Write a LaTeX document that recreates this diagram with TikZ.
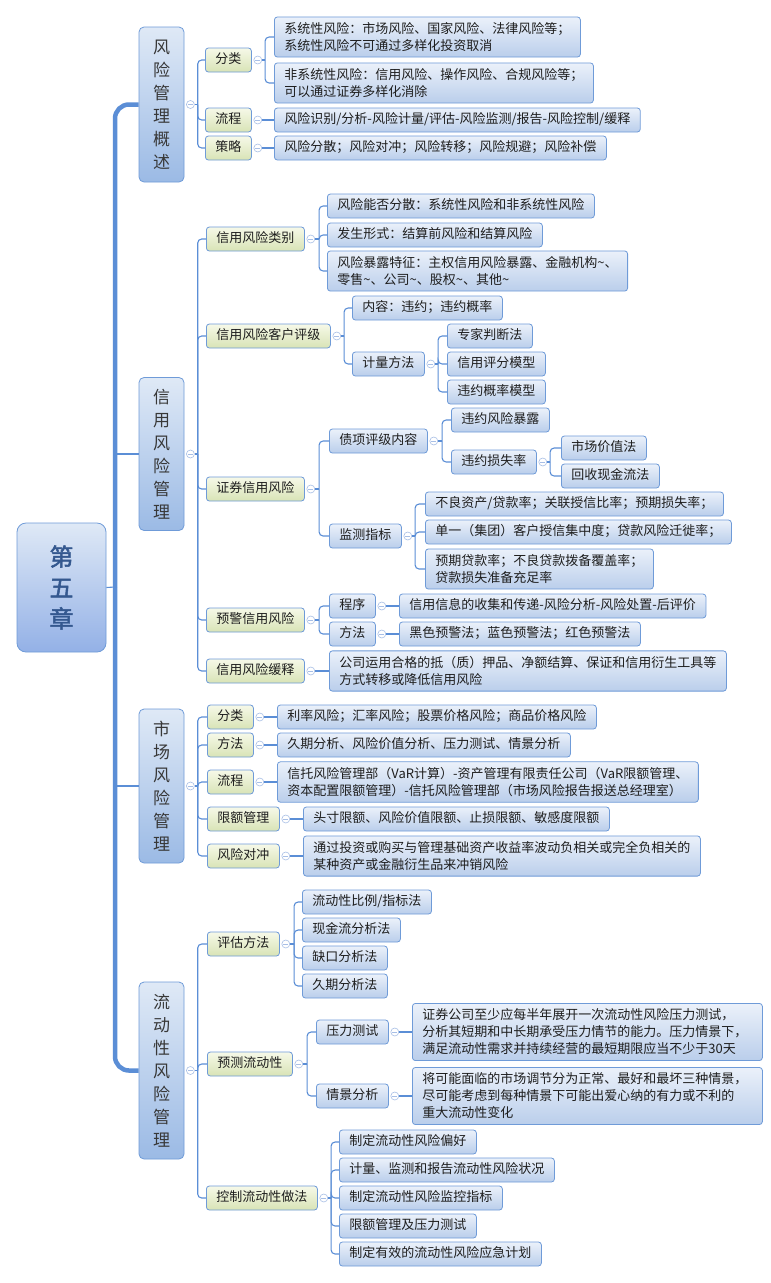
\documentclass[tikz,border=0pt]{standalone}
\usepackage{fontspec}
\setmainfont{Noto Sans CJK SC}[AutoFakeBold=2]
\usetikzlibrary{positioning, calc}
\definecolor{lnblue}{HTML}{5B8ED6}
\definecolor{bxline}{HTML}{6F9BD8}
\definecolor{lfTop}{HTML}{EBF1FA}
\definecolor{lfBot}{HTML}{BACEEB}
\definecolor{mdTop}{HTML}{F6F9E8}
\definecolor{mdBot}{HTML}{D8E3B6}
\definecolor{tpTop}{HTML}{DFE9F6}
\definecolor{tpBot}{HTML}{9BBAE5}
\definecolor{tgring}{HTML}{A8BFE6}
\definecolor{txdark}{HTML}{1E1E1E}
\definecolor{tpdark}{HTML}{383838}
\definecolor{rtblue}{HTML}{34588F}

\begin{document}
\begin{tikzpicture}[
  x=1pt, y=-1pt,
  base/.style={draw=bxline, line width=0.8pt, rounded corners=3pt, anchor=west,
    inner xsep=10pt, inner ysep=5.5pt, text height=10pt, text depth=3pt,
    align=left, font=\fontsize{13}{17}\selectfont, text=txdark},
  leaf/.style={base, top color=lfTop, bottom color=lfBot},
  mid/.style={base, top color=mdTop, bottom color=mdBot},
  multi/.style={text height={}, text depth={}},
  topic/.style={draw=bxline, line width=0.8pt, rounded corners=5pt,
    top color=tpTop, bottom color=tpBot, minimum width=45pt, inner xsep=0pt,
    inner ysep=0pt, align=center,
    font=\fontsize{17}{23}\selectfont, text=tpdark},
  rootbox/.style={draw=bxline, line width=0.8pt, rounded corners=9pt,
    top color=tpTop, bottom color=tpBot!95!blue, minimum width=89pt,
    minimum height=129pt, align=center,
    font=\fontsize{24}{31}\selectfont\bfseries, text=rtblue},
  tog/.style={circle, draw=tgring, line width=0.6pt, fill=white, minimum size=8pt,
    inner sep=0pt, path picture={\draw[tgring, line width=0.6pt]
      ([xshift=-2.4pt]path picture bounding box.center) --
      ([xshift=2.4pt]path picture bounding box.center);}},
  conn/.style={draw=lnblue, line width=1.1pt},
  trunk/.style={draw=lnblue, line width=4.5pt, rounded corners=14pt},
]

\useasboundingbox[fill=white] (0,0) rectangle (771,1283);

% Root
\node[rootbox] (ch5) at (61.5,587.5) {第\\五\\章};
\coordinate (trk) at (115,587);
\draw[conn] (ch5.east) -- (trk);

% =============================================
% Topics
% =============================================
\node[topic, minimum height=155pt] (ovw) at (161.5,104.5) {风\\险\\管\\理\\概\\述};
\node[topic, minimum height=153pt] (crd) at (161.5,454) {信\\用\\风\\险\\管\\理};
\node[topic, minimum height=154pt] (mkt) at (161.5,786) {市\\场\\风\\险\\管\\理};
\node[topic, minimum height=177pt] (liq) at (161.5,1070.5) {流\\动\\性\\风\\险\\管\\理};

% Trunk
\draw[trunk] (trk) |- (ovw.west);
\draw[trunk] (trk) |- (liq.west);
\draw[conn] (crd.west -| trk) -- (crd.west);
\draw[conn] (mkt.west -| trk) -- (mkt.west);

\foreach \t in {ovw, crd, mkt, liq}
  \node[tog] (\t-t) at ([xshift=6pt]\t.east) {};

% =============================================
% Risk management overview
% =============================================
\node[mid] (ovw-cls) at (205,60) {分类};
\node[mid] (ovw-prc) at (205,120) {流程};
\node[mid] (ovw-stg) at (205,148) {策略};

\node[leaf, multi] (ovw-cls-a) at (274,37)
  {系统性风险：市场风险、国家风险、法律风险等；\\系统性风险不可通过多样化投资取消};
\node[leaf, multi] (ovw-cls-b) at (274,83)
  {非系统性风险：信用风险、操作风险、合规风险等；\\可以通过证券多样化消除};
\node[leaf] (ovw-prc-a) at (274,120)
  {风险识别/分析-风险计量/评估-风险监测/报告-风险控制/缓释};
\node[leaf] (ovw-stg-a) at (274,148)
  {风险分散；风险对冲；风险转移；风险规避；风险补偿};

\draw[conn] (ovw-t.east) -- ++(3,0) coordinate (ovw-b);
\foreach \c in {ovw-cls, ovw-prc, ovw-stg}
  \draw[conn, rounded corners=4pt] (ovw-b) |- (\c.west);

\foreach \p in {ovw-cls, ovw-prc, ovw-stg}
  \node[tog] (\p-t) at ([xshift=6pt]\p.east) {};
\draw[conn] (ovw-cls-t.east) -- ++(3,0) coordinate (ovw-cls-bs);
\foreach \c in {ovw-cls-a, ovw-cls-b}
  \draw[conn, rounded corners=4pt] (ovw-cls-bs) |- (\c.west);
\draw[conn] (ovw-prc-t.east) -- (ovw-prc-a.west);
\draw[conn] (ovw-stg-t.east) -- (ovw-stg-a.west);

% =============================================
% Credit risk management
% =============================================
\node[mid] (crd-typ) at (206,239) {信用风险类别};
\node[mid] (crd-cst) at (206,336) {信用风险客户评级};
\node[mid] (crd-sec) at (206,489) {证券信用风险};
\node[mid] (crd-wrn) at (206,620) {预警信用风险};
\node[mid] (crd-mit) at (206,671) {信用风险缓释};

\draw[conn] (crd-t.east) -- ++(3,0) coordinate (crd-b);
\foreach \c in {crd-typ, crd-cst, crd-sec, crd-wrn, crd-mit}
  \draw[conn, rounded corners=4pt] (crd-b) |- (\c.west);
\foreach \p in {crd-typ, crd-cst, crd-sec, crd-wrn, crd-mit}
  \node[tog] (\p-t) at ([xshift=6pt]\p.east) {};

% Types
\node[leaf] (crd-typ-a) at (327,206) {风险能否分散：系统性风险和非系统性风险};
\node[leaf] (crd-typ-b) at (327,235) {发生形式：结算前风险和结算风险};
\node[leaf, multi] (crd-typ-c) at (327,271)
  {风险暴露特征：主权信用风险暴露、金融机构\textasciitilde、\\零售\textasciitilde、公司\textasciitilde、股权\textasciitilde、其他\textasciitilde};
\draw[conn] (crd-typ-t.east) -- ++(4,0) coordinate (crd-typ-bs);
\foreach \c in {crd-typ-a, crd-typ-b, crd-typ-c}
  \draw[conn, rounded corners=4pt] (crd-typ-bs) |- (\c.west);

% Client rating
\node[leaf] (crd-cst-a) at (352,308) {内容：违约；违约概率};
\node[leaf] (crd-cst-b) at (352,364) {计量方法};
\node[leaf] (crd-cst-b1) at (447,336) {专家判断法};
\node[leaf] (crd-cst-b2) at (447,364) {信用评分模型};
\node[leaf] (crd-cst-b3) at (447,392) {违约概率模型};
\draw[conn] (crd-cst-t.east) -- ++(3,0) coordinate (crd-cst-bs);
\foreach \c in {crd-cst-a, crd-cst-b}
  \draw[conn, rounded corners=4pt] (crd-cst-bs) |- (\c.west);
\node[tog] (crd-cst-b-t) at ([xshift=6pt]crd-cst-b.east) {};
\draw[conn] (crd-cst-b-t.east) -- ++(3,0) coordinate (crd-cst-b-bs);
\foreach \c in {crd-cst-b1, crd-cst-b2, crd-cst-b3}
  \draw[conn, rounded corners=4pt] (crd-cst-b-bs) |- (\c.west);

% Securities credit risk
\node[leaf] (crd-sec-a) at (329,441) {债项评级内容};
\node[leaf] (crd-sec-a1) at (451,420) {违约风险暴露};
\node[leaf] (crd-sec-a2) at (451,462) {违约损失率};
\node[leaf] (crd-sec-a21) at (561,448) {市场价值法};
\node[leaf] (crd-sec-a22) at (561,476) {回收现金流法};
\node[leaf] (crd-sec-b) at (329,536) {监测指标};
\node[leaf] (crd-sec-b1) at (425,504) {不良资产/贷款率；关联授信比率；预期损失率；};
\node[leaf] (crd-sec-b2) at (425,532) {单一（集团）客户授信集中度；贷款风险迁徙率；};
\node[leaf, multi] (crd-sec-b3) at (425,569) {预期贷款率；不良贷款拨备覆盖率；\\贷款损失准备充足率};
\draw[conn] (crd-sec-t.east) -- ++(4,0) coordinate (crd-sec-bs);
\foreach \c in {crd-sec-a, crd-sec-b}
  \draw[conn, rounded corners=4pt] (crd-sec-bs) |- (\c.west);
\foreach \p in {crd-sec-a, crd-sec-a2, crd-sec-b}
  \node[tog] (\p-t) at ([xshift=6pt]\p.east) {};
\draw[conn] (crd-sec-a-t.east) -- ++(4,0) coordinate (crd-sec-a-bs);
\foreach \c in {crd-sec-a1, crd-sec-a2}
  \draw[conn, rounded corners=4pt] (crd-sec-a-bs) |- (\c.west);
\draw[conn] (crd-sec-a2-t.east) -- ++(3,0) coordinate (crd-sec-a2-bs);
\foreach \c in {crd-sec-a21, crd-sec-a22}
  \draw[conn, rounded corners=4pt] (crd-sec-a2-bs) |- (\c.west);
\draw[conn] (crd-sec-b-t.east) -- ++(3,0) coordinate (crd-sec-b-bs);
\foreach \c in {crd-sec-b1, crd-sec-b2, crd-sec-b3}
  \draw[conn, rounded corners=4pt] (crd-sec-b-bs) |- (\c.west);

% Early warning
\node[leaf] (crd-wrn-a) at (329,606) {程序};
\node[leaf] (crd-wrn-b) at (329,634) {方法};
\node[leaf] (crd-wrn-a1) at (399,606) {信用信息的收集和传递-风险分析-风险处置-后评价};
\node[leaf] (crd-wrn-b1) at (399,634) {黑色预警法；蓝色预警法；红色预警法};
\draw[conn] (crd-wrn-t.east) -- ++(4,0) coordinate (crd-wrn-bs);
\foreach \c in {crd-wrn-a, crd-wrn-b}
  \draw[conn, rounded corners=4pt] (crd-wrn-bs) |- (\c.west);
\foreach \p in {crd-wrn-a, crd-wrn-b} {
  \node[tog] (\p-t) at ([xshift=6pt]\p.east) {};
  \draw[conn] (\p-t.east) -- (\p1.west);
}

% Mitigation
\node[leaf, multi] (crd-mit-a) at (329,671)
  {公司运用合格的抵（质）押品、净额结算、保证和信用衍生工具等\\方式转移或降低信用风险};
\draw[conn] (crd-mit-t.east) -- (crd-mit-a.west);

% =============================================
% Market risk management
% =============================================
\node[mid] (mkt-cls) at (207,717) {分类};
\node[mid] (mkt-mth) at (207,745) {方法};
\node[mid] (mkt-prc) at (207,782) {流程};
\node[mid] (mkt-lim) at (207,819) {限额管理};
\node[mid] (mkt-hdg) at (207,856) {风险对冲};

\node[leaf] (mkt-cls-a) at (277,717) {利率风险；汇率风险；股票价格风险；商品价格风险};
\node[leaf] (mkt-mth-a) at (277,745) {久期分析、风险价值分析、压力测试、情景分析};
\node[leaf, multi] (mkt-prc-a) at (277,782)
  {信托风险管理部（VaR计算）-资产管理有限责任公司（VaR限额管理、\\资本配置限额管理）-信托风险管理部（市场风险报告报送总经理室）};
\node[leaf] (mkt-lim-a) at (303,819) {头寸限额、风险价值限额、止损限额、敏感度限额};
\node[leaf, multi] (mkt-hdg-a) at (303,856)
  {通过投资或购买与管理基础资产收益率波动负相关或完全负相关的\\某种资产或金融衍生品来冲销风险};

\draw[conn] (mkt-t.east) -- ++(3,0) coordinate (mkt-b);
\foreach \c in {mkt-cls, mkt-mth, mkt-prc, mkt-lim, mkt-hdg} {
  \draw[conn, rounded corners=4pt] (mkt-b) |- (\c.west);
  \node[tog] (\c-t) at ([xshift=6pt]\c.east) {};
  \draw[conn] (\c-t.east) -- (\c-a.west);
}

% =============================================
% Liquidity risk management
% =============================================
\node[mid] (liq-evl) at (207,944) {评估方法};
\node[mid] (liq-fct) at (207,1064) {预测流动性};
\node[mid] (liq-ctl) at (206,1198) {控制流动性做法};

\draw[conn] (liq-t.east) -- ++(3,0) coordinate (liq-b);
\foreach \c in {liq-evl, liq-fct, liq-ctl} {
  \draw[conn, rounded corners=4pt] (liq-b) |- (\c.west);
  \node[tog] (\c-t) at ([xshift=6pt]\c.east) {};
}

% Evaluation methods
\node[leaf] (liq-evl-a) at (302,902) {流动性比例/指标法};
\node[leaf] (liq-evl-b) at (302,930) {现金流分析法};
\node[leaf] (liq-evl-c) at (302,958) {缺口分析法};
\node[leaf] (liq-evl-d) at (302,986) {久期分析法};
\draw[conn] (liq-evl-t.east) -- ++(4,0) coordinate (liq-evl-bs);
\foreach \c in {liq-evl-a, liq-evl-b, liq-evl-c, liq-evl-d}
  \draw[conn, rounded corners=4pt] (liq-evl-bs) |- (\c.west);

% Forecasting
\node[leaf] (liq-fct-a) at (316,1032) {压力测试};
\node[leaf] (liq-fct-b) at (316,1096) {情景分析};
\node[leaf, multi, text width=330pt] (liq-fct-a1) at (412,1032)
  {证券公司至少应每半年展开一次流动性风险压力测试，\\分析其短期和中长期承受压力情节的能力。压力情景下，\\满足流动性需求并持续经营的最短期限应当不少于30天};
\node[leaf, multi, text width=330pt] (liq-fct-b1) at (412,1096)
  {将可能面临的市场调节分为正常、最好和最坏三种情景，\\尽可能考虑到每种情景下可能出爱心纳的有力或不利的\\重大流动性变化};
\draw[conn] (liq-fct-t.east) -- ++(4,0) coordinate (liq-fct-bs);
\foreach \c in {liq-fct-a, liq-fct-b} {
  \draw[conn, rounded corners=4pt] (liq-fct-bs) |- (\c.west);
  \node[tog] (\c-t) at ([xshift=6pt]\c.east) {};
  \draw[conn] (\c-t.east) -- (\c1.west);
}

% Control practices
\node[leaf] (liq-ctl-a) at (339,1142) {制定流动性风险偏好};
\node[leaf] (liq-ctl-b) at (339,1170) {计量、监测和报告流动性风险状况};
\node[leaf] (liq-ctl-c) at (339,1198) {制定流动性风险监控指标};
\node[leaf] (liq-ctl-d) at (339,1226) {限额管理及压力测试};
\node[leaf] (liq-ctl-e) at (339,1254) {制定有效的流动性风险应急计划};
\draw[conn] (liq-ctl-t.east) -- ++(3,0) coordinate (liq-ctl-bs);
\foreach \c in {liq-ctl-a, liq-ctl-b, liq-ctl-c, liq-ctl-d, liq-ctl-e}
  \draw[conn, rounded corners=4pt] (liq-ctl-bs) |- (\c.west);

\end{tikzpicture}
\end{document}
